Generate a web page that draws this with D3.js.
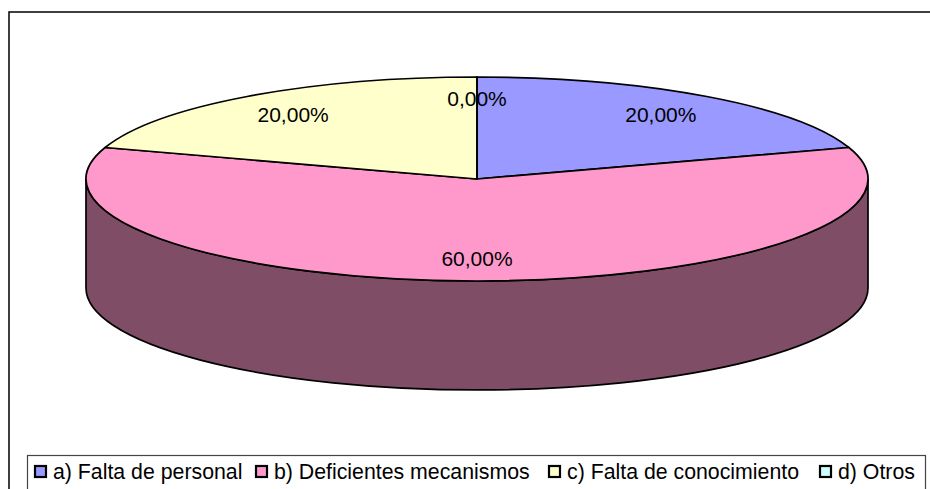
<!DOCTYPE html>
<html><head><meta charset="utf-8">
<script src="https://cdn.jsdelivr.net/npm/d3@7"></script>
<style>
html,body{margin:0;padding:0;background:#fff;overflow:hidden}
svg{display:block}
text{font-family:"Liberation Sans",Arial,sans-serif;fill:#000}
</style></head><body>
<svg id="chart" width="930" height="489"></svg>
<script>
const categories = ["a) Falta de personal","b) Deficientes mecanismos","c) Falta de conocimiento","d) Otros"];
const values = [20,60,20,0];
const valueLabels = ["20,00%","60,00%","20,00%","0,00%"];
const colors = ["#9999ff","#ff99cc","#ffffcc","#ccffff"];
const sideColor = "#804d66";

const cx=477,cy=179,rx=391,ry=102,depth=109;
const svg=d3.select("#chart");

// frame (runs past the right and bottom edges of the picture)
svg.append("rect").attr("x",9).attr("y",12).attr("width",930).attr("height",490)
  .attr("fill","#fff").attr("stroke","#000").attr("stroke-width",1.5);

const pieData=d3.pie().sort(null).value(d=>d)(values);
const arc=d3.arc().innerRadius(0).outerRadius(rx);
const yScale=ry/rx;

// side wall: front half
svg.append("path")
 .attr("d",`M${cx-rx},${cy} L${cx-rx},${cy+depth} A${rx},${ry} 0 0 0 ${cx+rx},${cy+depth} L${cx+rx},${cy} A${rx},${ry} 0 0 1 ${cx-rx},${cy} Z`)
 .attr("fill",sideColor).attr("stroke","#000").attr("stroke-width",1.7);

// top slices
const topFace=svg.append("g").attr("transform",`translate(${cx},${cy}) scale(1,${yScale})`);
topFace.selectAll("path").data(pieData).join("path")
 .attr("d",arc)
 .attr("fill",(d,i)=>colors[i])
 .attr("stroke","#000").attr("stroke-width",1.7)
 .attr("stroke-linejoin","round")
 .attr("vector-effect","non-scaling-stroke");

// data labels
svg.append("g").selectAll("text").data(pieData).join("text")
 .attr("x",d=>{const a=(d.startAngle+d.endAngle)/2;return cx+Math.sin(a)*rx*0.8;})
 .attr("y",d=>{const a=(d.startAngle+d.endAngle)/2;return cy-Math.cos(a)*ry*0.784;})
 .attr("dy","0.35em").attr("text-anchor","middle").attr("font-size",21)
 .text((d,i)=>valueLabels[i]);

// legend (runs past the bottom edge)
svg.append("rect").attr("x",27.5).attr("y",455.5).attr("width",898).attr("height",50)
 .attr("fill","#fff").attr("stroke","#444").attr("stroke-width",1.2);
const legendX=[35,256,549,820];
const lg=svg.append("g").selectAll("g").data(categories).join("g")
 .attr("transform",(d,i)=>`translate(${legendX[i]},472)`);
lg.append("rect").attr("x",0).attr("y",-6).attr("width",11).attr("height",11)
 .attr("fill",(d,i)=>colors[i]).attr("stroke","#000").attr("stroke-width",2.2);
lg.append("text").attr("x",18).attr("y",0).attr("dy","0.35em").attr("font-size",21.3).text(d=>d);
</script>
</body></html>
